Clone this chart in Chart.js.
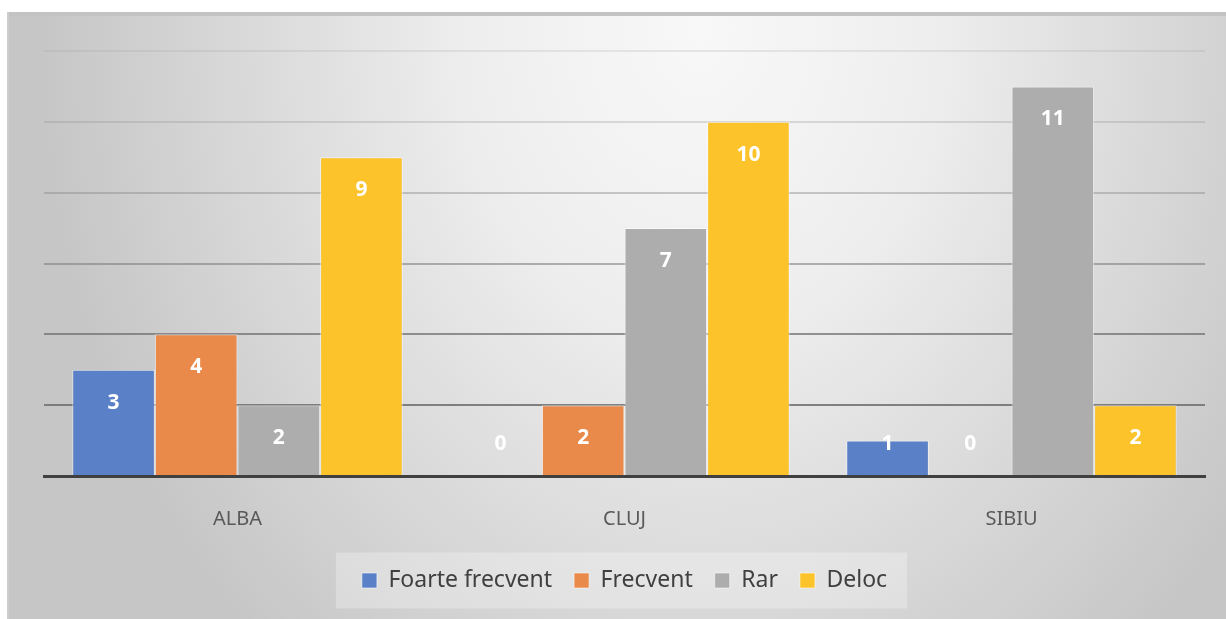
<!DOCTYPE html>
<html><head><meta charset="utf-8">
<script src="https://cdn.jsdelivr.net/npm/chart.js@4/dist/chart.umd.min.js"></script>
<style>html,body{margin:0;padding:0;background:#fff;overflow:hidden}#wrap{width:1226px;height:619px;position:relative}</style>
</head><body><div id="wrap"><canvas id="c" width="1226" height="619"></canvas></div>
<script>
const categories = ['ALBA', 'CLUJ', 'SIBIU'];
const seriesNames = ['Foarte frecvent', 'Frecvent', 'Rar', 'Deloc'];
const foarteFrecvent = [3, 0, 1];
const frecvent = [4, 2, 0];
const rar = [2, 7, 11];
const deloc = [9, 10, 2];
const yMin = 0, yMax = 12, yStep = 2;

const seriesColors = ['#5A80C8', '#E98A4B', '#ADADAD', '#FCC42A'];
const FONT = '"Noto Sans", "Open Sans", sans-serif';

const gridColors = {0: 'rgba(0,0,0,0)', 2: 'rgba(110,110,110,0.85)', 4: 'rgba(110,110,110,0.72)', 6: 'rgba(120,120,120,0.55)', 8: 'rgba(130,130,130,0.4)', 10: 'rgba(140,140,140,0.28)', 12: 'rgba(150,150,150,0.18)'};

const bgPlugin = {
  id: 'bg',
  beforeDraw(chart) {
    const ctx = chart.ctx;
    ctx.save();
    ctx.fillStyle = '#ffffff';
    ctx.fillRect(0, 0, chart.width, chart.height);
    ctx.beginPath(); ctx.rect(7, 12, chart.width - 7, chart.height - 12); ctx.clip();
    ctx.translate(700, 30); ctx.scale(1, 1.25);
    const g = ctx.createRadialGradient(0, 0, 0, 0, 0, 660);
    g.addColorStop(0, '#f8f8f8');
    g.addColorStop(0.35, '#eeeeee');
    g.addColorStop(1, '#c6c6c6');
    ctx.fillStyle = g;
    ctx.fillRect(-800, -100, 1800, 700);
    ctx.restore();
    ctx.save();
    ctx.fillStyle = '#c3c3c3';
    ctx.fillRect(7, 12, chart.width - 7, 4);
    ctx.fillStyle = '#cdcdcd';
    ctx.fillRect(7, 12, 2, chart.height - 12);
    // legend background box
    const lg = chart.legend;
    if (lg && lg.legendHitBoxes && lg.legendHitBoxes.length) {
      let l = Infinity, r = -Infinity, t = Infinity, b = -Infinity;
      lg.legendHitBoxes.forEach(h => { l = Math.min(l, h.left); r = Math.max(r, h.left + h.width); t = Math.min(t, h.top); b = Math.max(b, h.top + h.height); });
      const cy = (t + b) / 2;
      ctx.fillStyle = 'rgba(255,255,255,0.28)';
      ctx.fillRect(l - 26, cy - 28, (r - l) + 46, 56);
    }
    ctx.restore();
  }
};

const labelPlugin = {
  id: 'vals',
  afterDraw(chart) {
    const ctx = chart.ctx;
    const base = chart.scales.y.getPixelForValue(0);
    ctx.save();
    ctx.fillStyle = '#ffffff';
    ctx.font = 'bold 21px ' + FONT;
    ctx.textAlign = 'center';
    ctx.textBaseline = 'middle';
    chart.data.datasets.forEach((ds, i) => {
      chart.getDatasetMeta(i).data.forEach((el, j) => {
        const y = Math.min(el.y + 33, base - 32);
        ctx.fillText(String(ds.data[j]), el.x, y);
      });
    });
    ctx.restore();
  }
};

const seriesData = [foarteFrecvent, frecvent, rar, deloc];
new Chart(document.getElementById('c'), {
  type: 'bar',
  data: {
    labels: categories,
    datasets: seriesNames.map((n, i) => ({
      label: n,
      data: seriesData[i],
      backgroundColor: seriesColors[i],
      borderColor: 'rgba(255,255,255,0.55)',
      borderWidth: 1,
      categoryPercentage: 0.854,
      barPercentage: 1.0
    }))
  },
  options: {
    responsive: false,
    animation: false,
    layout: {padding: {left: 44, right: 21, top: 51, bottom: 17}},
    plugins: {
      tooltip: {enabled: false},
      legend: {
        position: 'bottom',
        labels: {
          color: '#404040',
          font: {size: 23, family: FONT},
          boxWidth: 15, boxHeight: 15,
          padding: 22
        }
      }
    },
    scales: {
      x: {
        z: 1,
        grid: {display: false},
        border: {display: true, color: '#404040', width: 3},
        ticks: {color: '#595959', font: {size: 20, family: FONT}, padding: 23},
        afterFit(scale) { scale.height = 71; }
      },
      y: {
        z: 1,
        min: yMin, max: yMax,
        ticks: {display: false, stepSize: yStep},
        grid: {drawTicks: false, lineWidth: 2, color: c => gridColors[c.tick ? c.tick.value : 0] || 'rgba(0,0,0,0)'},
        border: {display: false}
      }
    }
  },
  plugins: [bgPlugin, labelPlugin]
});
</script></body></html>
